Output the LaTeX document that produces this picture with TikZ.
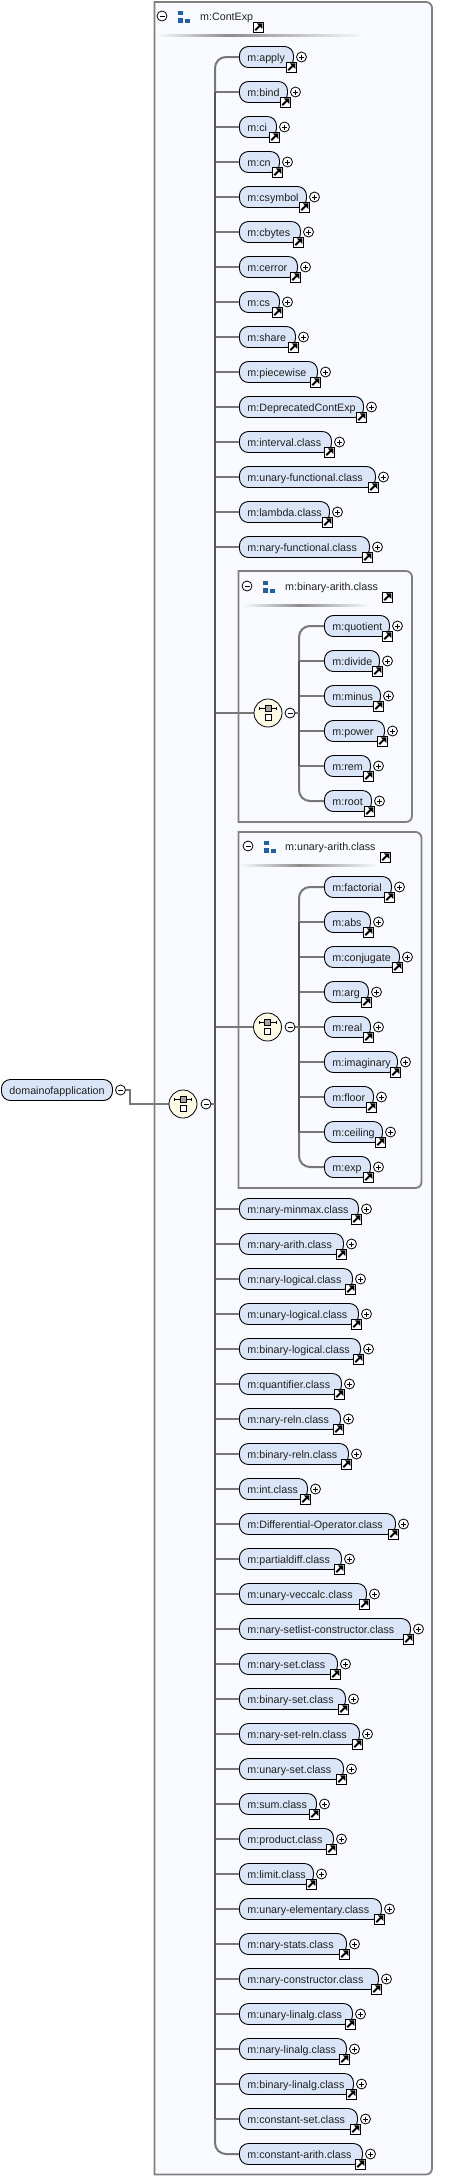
\documentclass[tikz,border=0pt]{standalone}
\usepackage{fontspec}
\setmainfont{Liberation Sans}
\usetikzlibrary{calc}
\pgfdeclarelayer{panels}
\pgfdeclarelayer{conns}
\pgfsetlayers{panels,conns,main}
\definecolor{panelbg}{HTML}{F8FAFF}
\definecolor{panelline}{HTML}{808080}
\definecolor{pillfill}{HTML}{DAE6F8}
\definecolor{branchc}{HTML}{777777}
\definecolor{trunkc}{HTML}{555555}
\definecolor{compfill}{HTML}{FDFBE6}
\definecolor{iconblue}{HTML}{2060A8}
\definecolor{inktext}{HTML}{202020}
\tikzset{
  pill/.style={draw=black,line width=.9pt,fill=pillfill,rounded corners=9pt,anchor=west,
    minimum height=21pt,inner ysep=0pt,inner xsep=8pt,align=left,text height=8pt,text depth=0pt,
    text=inktext,font=\fontsize{10.7}{12}\selectfont},
  label text/.style={anchor=west,inner sep=0pt,text height=8pt,text depth=0pt,text=inktext,
    font=\fontsize{10.7}{12}\selectfont},
  toggle/.style={circle,draw=black,line width=.8pt,fill=white,minimum size=10pt,inner sep=0pt},
  plustoggle/.style={toggle,path picture={
    \draw[line width=.7pt] ($(path picture bounding box.center)+(-2.5,0)$) -- ($(path picture bounding box.center)+(2.5,0)$);
    \draw[line width=.7pt] ($(path picture bounding box.center)+(0,-2.5)$) -- ($(path picture bounding box.center)+(0,2.5)$);}},
  minustoggle/.style={toggle,path picture={
    \draw[line width=.7pt] ($(path picture bounding box.center)+(-2.5,0)$) -- ($(path picture bounding box.center)+(2.5,0)$);}},
  linkbox/.style={rectangle,draw=black,line width=.9pt,fill=white,minimum width=10.5pt,minimum height=10pt,inner sep=0pt,
    path picture={
    \fill[black] ($(path picture bounding box.center)+(3.8,-3.6)$) -- ($(path picture bounding box.center)+(-1.6,-3.6)$) -- ($(path picture bounding box.center)+(3.8,1.8)$) -- cycle;
    \draw[black,line width=1.9pt] ($(path picture bounding box.center)+(-3.2,3.2)$) -- ($(path picture bounding box.center)+(1.5,-1.5)$);}},
  branch/.style={draw=branchc,line width=2pt},
  trunk/.style={draw=trunkc,line width=2.6pt},
  compositor/.style={circle,draw=black,line width=.8pt,fill=compfill,minimum size=28pt,inner sep=0pt,
    path picture={
    \coordinate (cc) at (path picture bounding box.center);
    \draw[black,line width=.9pt] ($(cc)+(-8.5,-4.7)$) -- ($(cc)+(8.5,-4.7)$);
    \draw[black,line width=.9pt] ($(cc)+(-8.5,-6.2)$) -- ($(cc)+(-8.5,-3.2)$);
    \draw[black,line width=.9pt] ($(cc)+(8.5,-6.2)$) -- ($(cc)+(8.5,-3.2)$);
    \draw[black,line width=.7pt,fill=gray!70] ($(cc)+(-3,-7.7)$) rectangle ($(cc)+(3,-1.7)$);
    \draw[black,line width=.8pt,fill=white] ($(cc)+(-3,1.3)$) rectangle ($(cc)+(3,7.3)$);}},
}
% element without its connector: id, left x, centre y, right x, label
\newcommand{\elemonly}[5]{%
  \pgfmathsetmacro{\elemw}{#4-#2}%
  \pgfmathsetmacro{\elemt}{#4-#2-16}%
  \node[pill,minimum width=\elemw pt,text width=\elemt pt] (#1) at (#2,#3) {#5};
  \node[plustoggle] (#1-p) at (#4+8.5,#3) {};
  \node[linkbox] (#1-l) at (#4-1.5,#3+10) {};
}
% id, trunk coordinate, left x, centre y, right x, label
\newcommand{\elem}[6]{%
  \elemonly{#1}{#3}{#4}{#5}{#6}
  \begin{pgfonlayer}{conns}
  \draw[branch] (#2 |- #1.west) -- (#1.west);
  \end{pgfonlayer}
}
% first and last children of a choice, with rounded elbows, and the dark part of the trunk
% trunk coordinate, first id, second id, next-to-last id, last id
\newcommand{\trunkpath}[5]{%
  \begin{pgfonlayer}{conns}
  \draw[branch] (#2.west) [rounded corners=11pt] -| (#1 |- #3.west);
  \draw[branch] (#1 |- #4.west) [rounded corners=11pt] |- (#5.west);
  \draw[trunk] (#1 |- #3.west) -- (#1 |- #4.west);
  \end{pgfonlayer}
}
% panel header: minus x, text x, arrow-box x, y of text, line start, line peak, line end, label, id
\newcommand{\panelhead}[9]{%
  \node[minustoggle] (#9-m) at (#1,#4) {};
  \fill[iconblue] (#1+16,#4-5) rectangle (#1+21,#4-1);
  \fill[iconblue] (#1+16,#4+2) rectangle (#1+21,#4+7);
  \fill[iconblue] (#1+23,#4+3) rectangle (#1+28,#4+7);
  \node[label text] (#9-t) at (#2,#4) {#8};
  \node[linkbox] (#9-l) at (#3,#4+11) {};
  \shade[left color=panelbg,right color=gray!90] (#5,#4+18) rectangle (#6,#4+20);
  \shade[left color=gray!90,right color=panelbg] (#6,#4+18) rectangle (#7,#4+20);
}
\newcommand{\panelbox}[4]{%
  \begin{pgfonlayer}{panels}
  \draw[draw=panelline,line width=1.8pt,fill=panelbg] (#1,#2) [rounded corners=6pt] -- (#3,#2) -- (#3,#4) [sharp corners] -- (#1,#4) -- cycle;
  \end{pgfonlayer}
}
\begin{document}
\begin{tikzpicture}[x=1pt,y=-1pt]
\useasboundingbox (0,0) rectangle (450,2177);
\begin{pgfonlayer}{panels}
\fill[white] (0,0) rectangle (450,2177);
\end{pgfonlayer}
\panelbox{154.5}{2}{432}{2174.5}
\panelhead{162}{200}{258.5}{16}{157}{228}{365}{m:ContExp}{outer}
\coordinate (TA) at (215,0);
\coordinate (TB) at (299,0);

\elemonly{apply}{239}{57}{293}{m:apply}
\elem{bind}{TA}{239}{92}{287}{m:bind}
\elem{ci}{TA}{239}{127}{276}{m:ci}
\elem{cn}{TA}{239}{162}{279}{m:cn}
\elem{csymbol}{TA}{239}{197}{306}{m:csymbol}
\elem{cbytes}{TA}{239}{232}{300}{m:cbytes}
\elem{cerror}{TA}{239}{267}{297}{m:cerror}
\elem{cs}{TA}{239}{302}{279}{m:cs}
\elem{share}{TA}{239}{337}{295}{m:share}
\elem{piecewise}{TA}{239}{372}{317}{m:piecewise}
\elem{deprecated}{TA}{239}{407}{363}{m:DeprecatedContExp}
\elem{interval}{TA}{239}{442}{331}{m:interval.class}
\elem{ufunc}{TA}{239}{477}{375}{m:unary-functional.class}
\elem{lambda}{TA}{239}{512}{329}{m:lambda.class}
\elem{nfunc}{TA}{239}{547}{369}{m:nary-functional.class}

% binary-arith group
\panelbox{238.5}{571}{412}{822}
\panelhead{247}{285}{387.5}{586}{243}{300}{370}{m:binary-arith.class}{binhead}
\node[compositor] (bincomp) at (268,713) {};
\node[minustoggle] (binminus) at (290,713) {};
\elemonly{quotient}{324}{626}{389}{m:quotient}
\elem{divide}{TB}{324}{661}{379}{m:divide}
\elem{minus}{TB}{324}{696}{380}{m:minus}
\elem{power}{TB}{324}{731}{384}{m:power}
\elem{rem}{TB}{324}{766}{370}{m:rem}
\elemonly{root}{324}{801}{371}{m:root}
\trunkpath{TB}{quotient}{divide}{rem}{root}
\begin{pgfonlayer}{conns}
\draw[branch] (TA |- bincomp.west) -- (bincomp.west);
\draw[branch] (binminus.east) -- (TB |- binminus.east);
\end{pgfonlayer}

% unary-arith group
\panelbox{238.5}{832}{421.5}{1188}
\panelhead{248}{285}{385.5}{846}{240}{300}{378}{m:unary-arith.class}{unhead}
\node[compositor] (uncomp) at (267.5,1027) {};
\node[minustoggle] (unminus) at (290,1027) {};
\elemonly{factorial}{324}{887}{391}{m:factorial}
\elem{abs}{TB}{324}{922}{370}{m:abs}
\elem{conjugate}{TB}{324}{957}{399}{m:conjugate}
\elem{arg}{TB}{324}{992}{368}{m:arg}
\elem{real}{TB}{324}{1027}{370}{m:real}
\elem{imaginary}{TB}{324}{1062}{397}{m:imaginary}
\elem{floor}{TB}{324}{1097}{373}{m:floor}
\elem{ceiling}{TB}{324}{1132}{382}{m:ceiling}
\elemonly{mexp}{324}{1167}{370}{m:exp}
\trunkpath{TB}{factorial}{abs}{ceiling}{mexp}
\begin{pgfonlayer}{conns}
\draw[branch] (TA |- uncomp.west) -- (uncomp.west);
\draw[branch] (unminus.east) -- (TB |- unminus.east);
\end{pgfonlayer}

% remaining children of the outer choice
\elem{nminmax}{TA}{239}{1209}{358}{m:nary-minmax.class}
\elem{narith}{TA}{239}{1244}{343}{m:nary-arith.class}
\elem{nlogical}{TA}{239}{1279}{352}{m:nary-logical.class}
\elem{ulogical}{TA}{239}{1314}{358}{m:unary-logical.class}
\elem{blogical}{TA}{239}{1349}{360}{m:binary-logical.class}
\elem{quant}{TA}{239}{1384}{341}{m:quantifier.class}
\elem{nreln}{TA}{239}{1419}{340}{m:nary-reln.class}
\elem{breln}{TA}{239}{1454}{348}{m:binary-reln.class}
\elem{int}{TA}{239}{1489}{307}{m:int.class}
\elem{diffop}{TA}{239}{1524}{395}{m:Differential-Operator.class}
\elem{pdiff}{TA}{239}{1559}{341}{m:partialdiff.class}
\elem{veccalc}{TA}{239}{1594}{366}{m:unary-veccalc.class}
\elem{setlist}{TA}{239}{1629}{410}{m:nary-setlist-constructor.class}
\elem{nset}{TA}{239}{1664}{337}{m:nary-set.class}
\elem{bset}{TA}{239}{1699}{345}{m:binary-set.class}
\elem{nsetreln}{TA}{239}{1734}{359}{m:nary-set-reln.class}
\elem{uset}{TA}{239}{1769}{343}{m:unary-set.class}
\elem{sum}{TA}{239}{1804}{316}{m:sum.class}
\elem{product}{TA}{239}{1839}{333}{m:product.class}
\elem{limit}{TA}{239}{1874}{313}{m:limit.class}
\elem{uelem}{TA}{239}{1909}{381}{m:unary-elementary.class}
\elem{nstats}{TA}{239}{1944}{346}{m:nary-stats.class}
\elem{nconstr}{TA}{239}{1979}{378}{m:nary-constructor.class}
\elem{ulinalg}{TA}{239}{2014}{352}{m:unary-linalg.class}
\elem{nlinalg}{TA}{239}{2049}{346}{m:nary-linalg.class}
\elem{blinalg}{TA}{239}{2084}{353}{m:binary-linalg.class}
\elem{cset}{TA}{239}{2119}{357}{m:constant-set.class}
\elemonly{carith}{239}{2154}{362}{m:constant-arith.class}
\trunkpath{TA}{apply}{bind}{cset}{carith}

% root element and main choice
\node[compositor] (maincomp) at (183,1104) {};
\node[minustoggle] (mainminus) at (206,1104) {};
\node[pill,minimum width=111pt,text width=95pt] (rootel) at (1,1090) {domainofapplication};
\node[minustoggle] (rootminus) at (120.5,1090) {};
\coordinate (elbowA) at (129.5,1090);
\begin{pgfonlayer}{conns}
\draw[branch] (mainminus.east) -- (TA |- mainminus.east);
\draw[branch] (rootminus.east) -- (elbowA) -- (elbowA |- maincomp.west) -- (maincomp.west);
\end{pgfonlayer}
\end{tikzpicture}
\end{document}
